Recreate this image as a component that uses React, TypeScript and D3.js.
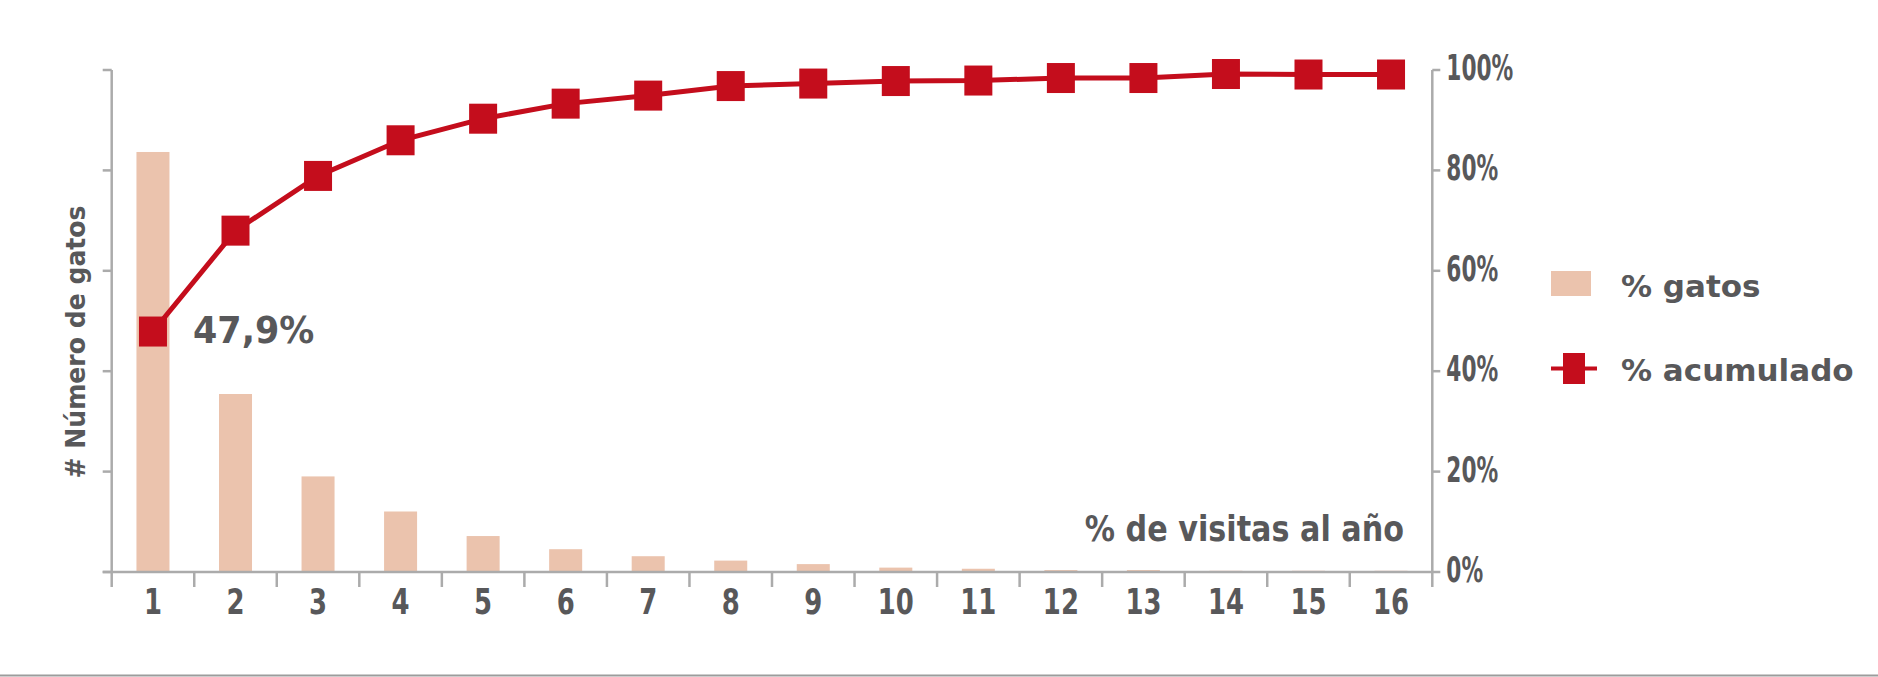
import React, { useEffect, useRef } from 'react';
import * as d3 from 'd3';

// Data
const categories = ['1', '2', '3', '4', '5', '6', '7', '8', '9', '10', '11', '12', '13', '14', '15', '16'];
const pctGatos = [47.9, 20.3, 10.9, 6.9, 4.1, 2.6, 1.8, 1.3, 0.9, 0.5, 0.37, 0.22, 0.22, 0.14, 0.14, 0.14];
const pctAcumulado = [47.9, 68.0, 78.9, 86.0, 90.3, 93.3, 94.9, 96.8, 97.3, 97.8, 97.9, 98.4, 98.4, 99.2, 99.1, 99.1];
const rightTicks = [0, 20, 40, 60, 80, 100];
const leftMax = 57.25; // left axis is unlabeled
const firstLabel = '47,9%';
const xTitle = '% de visitas al año';
const yTitle = '# Número de gatos';
const legendLabels = ['% gatos', '% acumulado'];

const BAR_COLOR = '#ebc3ad';
const RED = '#c40d1c';
const TEXT = '#58585a';
const AXIS = '#ababab';

const App: React.FC = () => {
  const svgRef = useRef<SVGSVGElement>(null);

  useEffect(() => {
    if (!svgRef.current) return;
    const svg = d3.select(svgRef.current);
    svg.selectAll('*').remove();

    const W = 1878;
    const H = 677;
    const x0 = 111.7;
    const x1 = 1432.3;
    const yTop = 70;
    const yBot = 572;
    const tickDown = 15;

    svg.attr('width', W).attr('height', H);

    const x = d3.scaleBand<string>()
      .domain(categories)
      .range([x0, x1])
      .paddingInner(0.6)
      .paddingOuter(0.3);

    const yLeft = d3.scaleLinear().domain([0, leftMax]).range([yBot, yTop]);
    const yRight = d3.scaleLinear().domain([0, 100]).range([yBot, yTop]);

    // narrow DIN-like labels: DejaVu bold squeezed horizontally
    const font = "'DejaVu Sans', sans-serif";

    // bottom separator line
    svg.append('line')
      .attr('x1', 0).attr('x2', W)
      .attr('y1', 675.5).attr('y2', 675.5)
      .attr('stroke', '#9c9c9c').attr('stroke-width', 2);

    // bars
    svg.append('g')
      .selectAll('rect')
      .data(pctGatos)
      .enter()
      .append('rect')
      .attr('x', (_, i) => x(categories[i]) as number)
      .attr('y', d => yLeft(d))
      .attr('width', x.bandwidth())
      .attr('height', d => yBot - yLeft(d))
      .attr('fill', BAR_COLOR);

    // axes
    const axes = svg.append('g').attr('stroke', AXIS).attr('stroke-width', 2.5);
    // left axis
    axes.append('line')
      .attr('x1', x0).attr('x2', x0)
      .attr('y1', yTop).attr('y2', yBot + tickDown);
    const leftTicks = d3.range(0, 6).map(i => (leftMax * i) / 5);
    axes.selectAll('.lt')
      .data(leftTicks)
      .enter()
      .append('line')
      .attr('x1', x0 - 9).attr('x2', x0)
      .attr('y1', d => yLeft(d)).attr('y2', d => yLeft(d));
    // right axis
    axes.append('line')
      .attr('x1', x1).attr('x2', x1)
      .attr('y1', yTop).attr('y2', yBot + tickDown);
    axes.selectAll('.rt')
      .data(rightTicks)
      .enter()
      .append('line')
      .attr('x1', x1).attr('x2', x1 + 8)
      .attr('y1', d => yRight(d)).attr('y2', d => yRight(d));
    // baseline
    axes.append('line')
      .attr('x1', x0 - 9).attr('x2', x1)
      .attr('y1', yBot).attr('y2', yBot);
    // category separators
    const step = x.step();
    axes.selectAll('.ct')
      .data(categories.slice(1))
      .enter()
      .append('line')
      .attr('x1', d => (x(d) as number) - step * 0.3)
      .attr('x2', d => (x(d) as number) - step * 0.3)
      .attr('y1', yBot).attr('y2', yBot + tickDown);

    // category labels
    svg.append('g')
      .selectAll('text')
      .data(categories)
      .enter()
      .append('text')
      .attr('transform', d => `translate(${(x(d) as number) + x.bandwidth() / 2},613.5) scale(0.72,1)`)
      .attr('text-anchor', 'middle')
      .attr('fill', TEXT)
      .style('font-family', font)
      .style('font-weight', 'bold')
      .style('font-size', '36px')
      .text(d => d);

    // right tick labels
    svg.append('g')
      .selectAll('text')
      .data(rightTicks)
      .enter()
      .append('text')
      .attr('transform', d => `translate(${x1 + 14},${yRight(d) + 10}) scale(0.62,1)`)
      .attr('fill', TEXT)
      .style('font-family', font)
      .style('font-weight', 'bold')
      .style('font-size', '35px')
      .text(d => `${d}%`);

    // cumulative line
    const cx = (i: number) => (x(categories[i]) as number) + x.bandwidth() / 2;
    const line = d3.line<number>()
      .x((_, i) => cx(i))
      .y(d => yRight(d));
    svg.append('path')
      .datum(pctAcumulado)
      .attr('fill', 'none')
      .attr('stroke', RED)
      .attr('stroke-width', 5)
      .attr('d', line);

    const mw = 28;
    const mh = 30;
    svg.append('g')
      .selectAll('rect')
      .data(pctAcumulado)
      .enter()
      .append('rect')
      .attr('x', (_, i) => cx(i) - mw / 2)
      .attr('y', d => yRight(d) - mh / 2)
      .attr('width', mw)
      .attr('height', mh)
      .attr('fill', RED);

    // first value label
    svg.append('text')
      .attr('transform', 'translate(193,343) scale(0.92,1)')
      .attr('fill', TEXT)
      .style('font-family', font)
      .style('font-weight', 'bold')
      .style('font-size', '38px')
      .text(firstLabel);

    // x title
    svg.append('text')
      .attr('transform', 'translate(1404,541) scale(0.84,1)')
      .attr('text-anchor', 'end')
      .attr('fill', TEXT)
      .style('font-family', font)
      .style('font-weight', 'bold')
      .style('font-size', '36px')
      .text(xTitle);

    // y title
    svg.append('text')
      .attr('transform', 'translate(85,342) rotate(-90) scale(0.93,1)')
      .attr('text-anchor', 'middle')
      .attr('fill', TEXT)
      .style('font-family', font)
      .style('font-weight', 'bold')
      .style('font-size', '27px')
      .text(yTitle);

    // legend
    const legend = svg.append('g');
    legend.append('rect')
      .attr('x', 1551).attr('y', 271)
      .attr('width', 40).attr('height', 25)
      .attr('fill', BAR_COLOR);
    legend.append('line')
      .attr('x1', 1551).attr('x2', 1597)
      .attr('y1', 368.5).attr('y2', 368.5)
      .attr('stroke', RED).attr('stroke-width', 4);
    legend.append('rect')
      .attr('x', 1574 - 11).attr('y', 368.5 - 15.5)
      .attr('width', 22).attr('height', 31)
      .attr('fill', RED);
    legend.selectAll('text')
      .data(legendLabels)
      .enter()
      .append('text')
      .attr('x', 1621)
      .attr('y', (_, i) => (i === 0 ? 296.5 : 381))
      .attr('fill', TEXT)
      .style('font-family', font)
      .style('font-weight', 'bold')
      .style('font-size', '31px')
      .text(d => d);
  }, []);

  return (
    <svg ref={svgRef} style={{ position: 'absolute', left: 0, top: 0, background: '#fff' }}></svg>
  );
};

export default App;
